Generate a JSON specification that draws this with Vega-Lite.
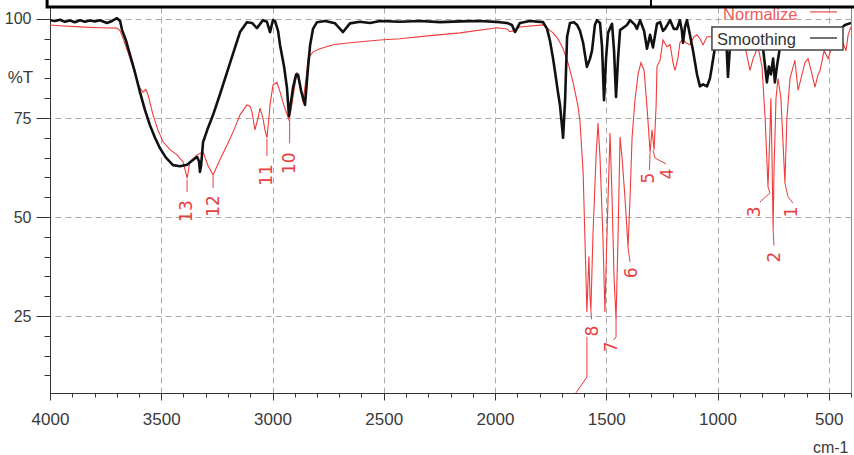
{
  "$schema": "https://vega.github.io/schema/vega-lite/v6.json",
  "width": 801,
  "height": 386,
  "autosize": {"type": "none"},
  "padding": {"left": 50, "top": 7, "right": 3, "bottom": 62},
  "background": "white",
  "config": {
    "view": {"stroke": "#888", "strokeWidth": 1},
    "axis": {
      "domainColor": "#333",
      "tickColor": "#333",
      "labelColor": "#3a3a3a",
      "titleColor": "#3a3a3a",
      "labelFont": "Liberation Sans",
      "titleFont": "Liberation Sans",
      "labelFontSize": 16,
      "titleFontSize": 17,
      "titleFontWeight": "normal",
      "gridColor": "#aaa",
      "gridDash": [6, 4],
      "labelOverlap": false,
      "labelFlush": false
    }
  },
  "datasets": {
    "smoothing": [
      {"wn":4000,"t":99.7},{"wn":3978,"t":99.5},{"wn":3955,"t":99.8},{"wn":3933,"t":99.3},{"wn":3910,"t":99.6},{"wn":3888,"t":99.2},{"wn":3865,"t":99.7},{"wn":3843,"t":99.3},{"wn":3820,"t":99.6},{"wn":3798,"t":99.4},{"wn":3775,"t":99.7},{"wn":3744,"t":99.0},{"wn":3721,"t":99.5},{"wn":3699,"t":100.2},{"wn":3685,"t":99.5},{"wn":3676,"t":97.2},{"wn":3658,"t":94.5},{"wn":3640,"t":90.9},{"wn":3618,"t":86.5},{"wn":3596,"t":81.6},{"wn":3573,"t":77},{"wn":3551,"t":73.2},{"wn":3528,"t":70},{"wn":3506,"t":67.4},{"wn":3479,"t":65},{"wn":3447,"t":63.1},{"wn":3416,"t":62.8},{"wn":3384,"t":63.2},{"wn":3362,"t":64.2},{"wn":3339,"t":65.2},{"wn":3330,"t":64},{"wn":3326,"t":61.4},{"wn":3321,"t":63},{"wn":3312,"t":68.9},{"wn":3290,"t":72.5},{"wn":3267,"t":75.8},{"wn":3236,"t":81},{"wn":3204,"t":86.6},{"wn":3173,"t":92},{"wn":3146,"t":96.7},{"wn":3115,"t":99.2},{"wn":3092,"t":99},{"wn":3070,"t":97.7},{"wn":3043,"t":99.7},{"wn":3025,"t":99.3},{"wn":3011,"t":96.7},{"wn":2998,"t":99.7},{"wn":2989,"t":99.5},{"wn":2975,"t":97},{"wn":2966,"t":93.4},{"wn":2948,"t":88},{"wn":2935,"t":82.6},{"wn":2926,"t":75.5},{"wn":2917,"t":79},{"wn":2908,"t":82.6},{"wn":2894,"t":86},{"wn":2885,"t":85.9},{"wn":2872,"t":82},{"wn":2854,"t":78.3},{"wn":2840,"t":88},{"wn":2831,"t":93.4},{"wn":2818,"t":97.5},{"wn":2800,"t":99.2},{"wn":2764,"t":99.5},{"wn":2719,"t":98.9},{"wn":2683,"t":96.7},{"wn":2652,"t":98.9},{"wn":2607,"t":99.3},{"wn":2562,"t":99.0},{"wn":2517,"t":99.5},{"wn":2427,"t":99.3},{"wn":2337,"t":99.5},{"wn":2247,"t":99.2},{"wn":2157,"t":99.4},{"wn":2067,"t":99.5},{"wn":1978,"t":99.2},{"wn":1946,"t":99.0},{"wn":1924,"t":98.5},{"wn":1910,"t":96.7},{"wn":1888,"t":99},{"wn":1843,"t":99.5},{"wn":1784,"t":99.2},{"wn":1766,"t":97.5},{"wn":1753,"t":94.5},{"wn":1739,"t":90},{"wn":1730,"t":86.6},{"wn":1717,"t":81.5},{"wn":1708,"t":78.3},{"wn":1694,"t":70},{"wn":1685,"t":79.5},{"wn":1676,"t":95.5},{"wn":1663,"t":99},{"wn":1645,"t":99.2},{"wn":1631,"t":98.5},{"wn":1618,"t":97},{"wn":1604,"t":94},{"wn":1587,"t":87.9},{"wn":1573,"t":90},{"wn":1564,"t":92},{"wn":1551,"t":98.5},{"wn":1542,"t":99.7},{"wn":1528,"t":99},{"wn":1519,"t":93},{"wn":1510,"t":79.5},{"wn":1501,"t":90},{"wn":1492,"t":96.5},{"wn":1474,"t":98.8},{"wn":1465,"t":92},{"wn":1456,"t":80.3},{"wn":1447,"t":90},{"wn":1438,"t":97.2},{"wn":1407,"t":98.5},{"wn":1393,"t":99.7},{"wn":1371,"t":98.5},{"wn":1362,"t":97.5},{"wn":1348,"t":99.7},{"wn":1330,"t":97},{"wn":1317,"t":92.5},{"wn":1303,"t":96},{"wn":1290,"t":92.8},{"wn":1272,"t":98.8},{"wn":1258,"t":99.2},{"wn":1245,"t":97},{"wn":1236,"t":97.5},{"wn":1213,"t":99.7},{"wn":1196,"t":97.5},{"wn":1182,"t":97.5},{"wn":1169,"t":99.7},{"wn":1160,"t":97},{"wn":1155,"t":94},{"wn":1146,"t":98},{"wn":1137,"t":99.7},{"wn":1124,"t":96},{"wn":1110,"t":92},{"wn":1092,"t":86},{"wn":1079,"t":83},{"wn":1065,"t":83.5},{"wn":1047,"t":83},{"wn":1034,"t":85},{"wn":1025,"t":88},{"wn":1011,"t":93},{"wn":998,"t":95},{"wn":980,"t":96},{"wn":962,"t":96.5},{"wn":953,"t":85.4},{"wn":944,"t":93},{"wn":930,"t":97},{"wn":876,"t":97.5},{"wn":831,"t":96.5},{"wn":800,"t":95},{"wn":786,"t":88},{"wn":778,"t":84},{"wn":769,"t":88},{"wn":760,"t":86},{"wn":750,"t":90},{"wn":742,"t":84},{"wn":733,"t":88},{"wn":719,"t":93},{"wn":697,"t":95},{"wn":674,"t":96.5},{"wn":629,"t":97},{"wn":584,"t":97.5},{"wn":539,"t":97.5},{"wn":494,"t":97},{"wn":449,"t":97.5},{"wn":427,"t":98.5},{"wn":400,"t":99}
    ],
    "normalize": [
      {"wn":4000,"t":98.5},{"wn":3955,"t":98.3},{"wn":3865,"t":98.0},{"wn":3775,"t":97.8},{"wn":3699,"t":97.7},{"wn":3685,"t":97},{"wn":3672,"t":95.2},{"wn":3649,"t":91.5},{"wn":3631,"t":88.4},{"wn":3613,"t":85},{"wn":3596,"t":82.6},{"wn":3582,"t":81.5},{"wn":3569,"t":82.2},{"wn":3560,"t":81},{"wn":3537,"t":75.8},{"wn":3515,"t":72},{"wn":3492,"t":69},{"wn":3461,"t":67},{"wn":3429,"t":65.7},{"wn":3402,"t":63.9},{"wn":3389,"t":61},{"wn":3384,"t":59.8},{"wn":3380,"t":61},{"wn":3371,"t":63.9},{"wn":3339,"t":65.7},{"wn":3312,"t":66.4},{"wn":3290,"t":63},{"wn":3267,"t":60.6},{"wn":3236,"t":64.5},{"wn":3204,"t":68.2},{"wn":3173,"t":72},{"wn":3146,"t":75.8},{"wn":3115,"t":78.3},{"wn":3101,"t":78},{"wn":3092,"t":76.5},{"wn":3079,"t":72},{"wn":3065,"t":75},{"wn":3056,"t":77.5},{"wn":3043,"t":75},{"wn":3034,"t":72},{"wn":3025,"t":70},{"wn":3016,"t":75},{"wn":3011,"t":78.3},{"wn":2998,"t":83.3},{"wn":2980,"t":84},{"wn":2966,"t":81.6},{"wn":2948,"t":78},{"wn":2935,"t":76},{"wn":2926,"t":74.5},{"wn":2917,"t":77},{"wn":2903,"t":82},{"wn":2890,"t":86.6},{"wn":2876,"t":83},{"wn":2863,"t":79},{"wn":2849,"t":85},{"wn":2840,"t":90},{"wn":2818,"t":91.7},{"wn":2787,"t":92.5},{"wn":2728,"t":93.5},{"wn":2652,"t":94},{"wn":2517,"t":94.7},{"wn":2427,"t":95.0},{"wn":2292,"t":95.8},{"wn":2157,"t":96.5},{"wn":1991,"t":97.8},{"wn":1946,"t":97.5},{"wn":1933,"t":96.8},{"wn":1919,"t":97.0},{"wn":1888,"t":98},{"wn":1784,"t":98.5},{"wn":1762,"t":97.5},{"wn":1739,"t":96.5},{"wn":1717,"t":95},{"wn":1694,"t":92.5},{"wn":1672,"t":89},{"wn":1649,"t":84},{"wn":1627,"t":78},{"wn":1618,"t":74},{"wn":1604,"t":61.4},{"wn":1596,"t":45},{"wn":1587,"t":26},{"wn":1578,"t":40},{"wn":1573,"t":30},{"wn":1569,"t":26.5},{"wn":1560,"t":45},{"wn":1546,"t":65},{"wn":1537,"t":73.7},{"wn":1528,"t":65},{"wn":1515,"t":45},{"wn":1506,"t":26},{"wn":1497,"t":45},{"wn":1483,"t":71.2},{"wn":1474,"t":55},{"wn":1465,"t":35},{"wn":1456,"t":24},{"wn":1447,"t":45},{"wn":1438,"t":70.2},{"wn":1429,"t":65},{"wn":1416,"t":55},{"wn":1402,"t":42.4},{"wn":1393,"t":55},{"wn":1384,"t":70},{"wn":1371,"t":79.5},{"wn":1357,"t":86},{"wn":1344,"t":89},{"wn":1330,"t":87},{"wn":1317,"t":78},{"wn":1303,"t":66.4},{"wn":1294,"t":72},{"wn":1285,"t":67},{"wn":1276,"t":78},{"wn":1272,"t":88},{"wn":1258,"t":89.6},{"wn":1245,"t":94.7},{"wn":1227,"t":93},{"wn":1213,"t":93.5},{"wn":1200,"t":89},{"wn":1191,"t":87},{"wn":1178,"t":90},{"wn":1169,"t":94},{"wn":1155,"t":95},{"wn":1142,"t":94},{"wn":1124,"t":93.5},{"wn":1106,"t":95.5},{"wn":1092,"t":96},{"wn":1079,"t":95},{"wn":1065,"t":93.5},{"wn":1047,"t":95.5},{"wn":1025,"t":95.5},{"wn":989,"t":95},{"wn":944,"t":94.5},{"wn":899,"t":94},{"wn":876,"t":93},{"wn":854,"t":87},{"wn":840,"t":90},{"wn":818,"t":93},{"wn":800,"t":88},{"wn":786,"t":75},{"wn":773,"t":57.6},{"wn":764,"t":72},{"wn":760,"t":80},{"wn":755,"t":65},{"wn":750,"t":46.7},{"wn":746,"t":62},{"wn":737,"t":80},{"wn":728,"t":85},{"wn":715,"t":80},{"wn":697,"t":58.6},{"wn":688,"t":75},{"wn":674,"t":85},{"wn":652,"t":89.6},{"wn":638,"t":82},{"wn":620,"t":86},{"wn":607,"t":89},{"wn":593,"t":90},{"wn":575,"t":86},{"wn":562,"t":82.8},{"wn":548,"t":86},{"wn":539,"t":87},{"wn":521,"t":92},{"wn":503,"t":90},{"wn":485,"t":93},{"wn":458,"t":95},{"wn":436,"t":94},{"wn":422,"t":92},{"wn":413,"t":96},{"wn":400,"t":98}
    ],
    "peaks": [
      {"label":"13","wn":3384,"t":51.5},
      {"label":"12","wn":3263,"t":52.8},
      {"label":"11","wn":3025,"t":60.6},
      {"label":"10","wn":2921,"t":63.6},
      {"label":"8","wn":1560,"t":21.2},
      {"label":"7","wn":1474,"t":17.2},
      {"label":"6","wn":1384,"t":35.9},
      {"label":"5","wn":1308,"t":59.8},
      {"label":"4","wn":1222,"t":60.9},
      {"label":"3","wn":832,"t":51.3},
      {"label":"2","wn":742,"t":39.9},
      {"label":"1","wn":665,"t":51.3}
    ],
    "leaders": [
      {"peak":"13","k":1,"wn":3384,"t":59.5},{"peak":"13","k":2,"wn":3384,"t":56.3},
      {"peak":"12","k":1,"wn":3267,"t":60.4},{"peak":"12","k":2,"wn":3267,"t":57.3},
      {"peak":"11","k":1,"wn":3025,"t":69.7},{"peak":"11","k":2,"wn":3025,"t":65.4},
      {"peak":"10","k":1,"wn":2923,"t":74.5},{"peak":"10","k":2,"wn":2923,"t":68.6},
      {"peak":"9","k":1,"wn":1587,"t":19.7},{"peak":"9","k":2,"wn":1587,"t":9.6},{"peak":"9","k":3,"wn":1636,"t":5.6},
      {"peak":"8","k":1,"wn":1569,"t":26.5},{"peak":"8","k":2,"wn":1566,"t":24.2},
      {"peak":"7","k":1,"wn":1456,"t":24},{"peak":"7","k":2,"wn":1456,"t":19.7},{"peak":"7","k":3,"wn":1467,"t":18.9},
      {"peak":"6","k":1,"wn":1402,"t":42.4},{"peak":"6","k":2,"wn":1393,"t":38.6},
      {"peak":"5","k":1,"wn":1303,"t":66.4},{"peak":"5","k":2,"wn":1306,"t":61.9},
      {"peak":"4","k":1,"wn":1290,"t":66.9},{"peak":"4","k":2,"wn":1281,"t":64.9},{"peak":"4","k":3,"wn":1231,"t":63.4},
      {"peak":"3","k":1,"wn":773,"t":57.6},{"peak":"3","k":2,"wn":764,"t":56.1},{"peak":"3","k":3,"wn":809,"t":53.8},
      {"peak":"2","k":1,"wn":750,"t":46.7},{"peak":"2","k":2,"wn":746,"t":42.8},
      {"peak":"1","k":1,"wn":697,"t":58.6},{"peak":"1","k":2,"wn":683,"t":55.1},{"peak":"1","k":3,"wn":661,"t":53.5}
    ],
    "legend": [
      {"series":"Smoothing","wn":1025,"wn2":436,"t":98.0,"t2":92.2}
    ]
  },
  "encoding": {
    "x": {
      "field": "wn", "type": "quantitative",
      "scale": {"domain": [400, 4000], "reverse": true, "nice": false, "zero": false},
      "axis": {
        "title": "cm-1",
        "values": [4000,3900,3800,3700,3600,3500,3400,3300,3200,3100,3000,2900,2800,2700,2600,2500,2400,2300,2200,2100,2000,1900,1800,1700,1600,1500,1400,1300,1200,1100,1000,900,800,700,600,500,400],
        "format": "d",
        "labelExpr": "datum.value % 500 === 0 ? datum.label : ''",
        "labelOverlap": false,
        "labelFlush": false,
        "labelFontSize": 17,
        "tickSize": {"condition": {"test": "datum.value % 500 === 0", "value": 7}, "value": 4},
        "grid": true,
        "gridOpacity": {"condition": {"test": "datum.value % 500 === 0 && datum.value < 4000", "value": 1}, "value": 0},
        "labelPadding": 11,
        "titleFontSize": 16,
        "titleAnchor": "end",
        "titleAlign": "right",
        "titleBaseline": "alphabetic",
        "titleX": 798,
        "titleY": 59
      }
    },
    "y": {
      "field": "t", "type": "quantitative",
      "scale": {"domain": [5.56, 103.03], "nice": false, "zero": false},
      "axis": {
        "title": "%T",
        "values": [10,15,20,25,30,35,40,45,50,55,60,65,70,75,80,85,90,95,100],
        "labelExpr": "datum.value % 25 === 0 ? datum.label : ''",
        "labelOverlap": false,
        "labelFontSize": 16,
        "tickSize": {"condition": {"test": "datum.value % 25 === 0", "value": 14}, "value": 6},
        "grid": true,
        "gridOpacity": {"condition": {"test": "datum.value % 25 === 0", "value": 1}, "value": 0},
        "labelPadding": 5,
        "titleAngle": 0,
        "titleAlign": "center",
        "titleBaseline": "alphabetic",
        "titleX": -30,
        "titleY": 75
      }
    }
  },
  "layer": [
    {
      "data": {"name": "normalize"},
      "mark": {"type": "line", "color": "#f03c3c", "strokeWidth": 1.1, "clip": true}
    },
    {
      "data": {"name": "smoothing"},
      "mark": {"type": "line", "color": "#111", "strokeWidth": 2.6, "strokeJoin": "round", "clip": true}
    },
    {
      "data": {"name": "leaders"},
      "mark": {"type": "line", "color": "#e8403f", "strokeWidth": 1},
      "encoding": {
        "detail": {"field": "peak"},
        "order": {"field": "k", "type": "quantitative"}
      }
    },
    {
      "data": {"name": "peaks"},
      "mark": {"type": "text", "angle": 270, "align": "center", "baseline": "middle", "font": "DejaVu Sans", "fontSize": 17, "color": "#e8403f"},
      "encoding": {"text": {"field": "label"}}
    },
    {
      "data": {"name": "legend"},
      "mark": {"type": "rect", "fill": "white", "stroke": "#444", "strokeWidth": 1.5},
      "encoding": {
        "x2": {"field": "wn2"},
        "y2": {"field": "t2"}
      }
    },
    {
      "data": {"name": "legend"},
      "mark": {"type": "text", "align": "left", "baseline": "alphabetic", "font": "Liberation Sans", "fontSize": 16.5, "color": "#333", "text": "Smoothing"},
      "encoding": {"x": {"datum": 1002}, "y": {"datum": 93.4}}
    },
    {
      "data": {"name": "legend"},
      "mark": {"type": "rule", "color": "#444", "strokeWidth": 1.5},
      "encoding": {"x": {"datum": 584}, "x2": {"datum": 463}, "y": {"datum": 95.2}}
    },
    {
      "data": {"name": "legend"},
      "mark": {"type": "text", "align": "left", "baseline": "alphabetic", "font": "Liberation Sans", "fontSize": 16.5, "color": "#f05a5a", "text": "Normalize"},
      "encoding": {"x": {"datum": 975}, "y": {"datum": 99.75}}
    },
    {
      "data": {"name": "legend"},
      "mark": {"type": "rule", "color": "#f07070", "strokeWidth": 1.5},
      "encoding": {"x": {"datum": 584}, "x2": {"datum": 463}, "y": {"datum": 101.8}}
    },
    {
      "data": {"name": "legend"},
      "mark": {"type": "rect", "fillOpacity": 0, "stroke": "#000", "strokeWidth": 3},
      "encoding": {"x": {"datum": 4013}, "x2": {"datum": 360}, "y": {"datum": 103.03}, "y2": {"datum": 107}}
    },
    {
      "data": {"name": "legend"},
      "mark": {"type": "rule", "color": "#000", "strokeWidth": 2},
      "encoding": {"x": {"datum": 1299}, "y": {"datum": 103.03}, "y2": {"datum": 107}}
    }
  ]
}
